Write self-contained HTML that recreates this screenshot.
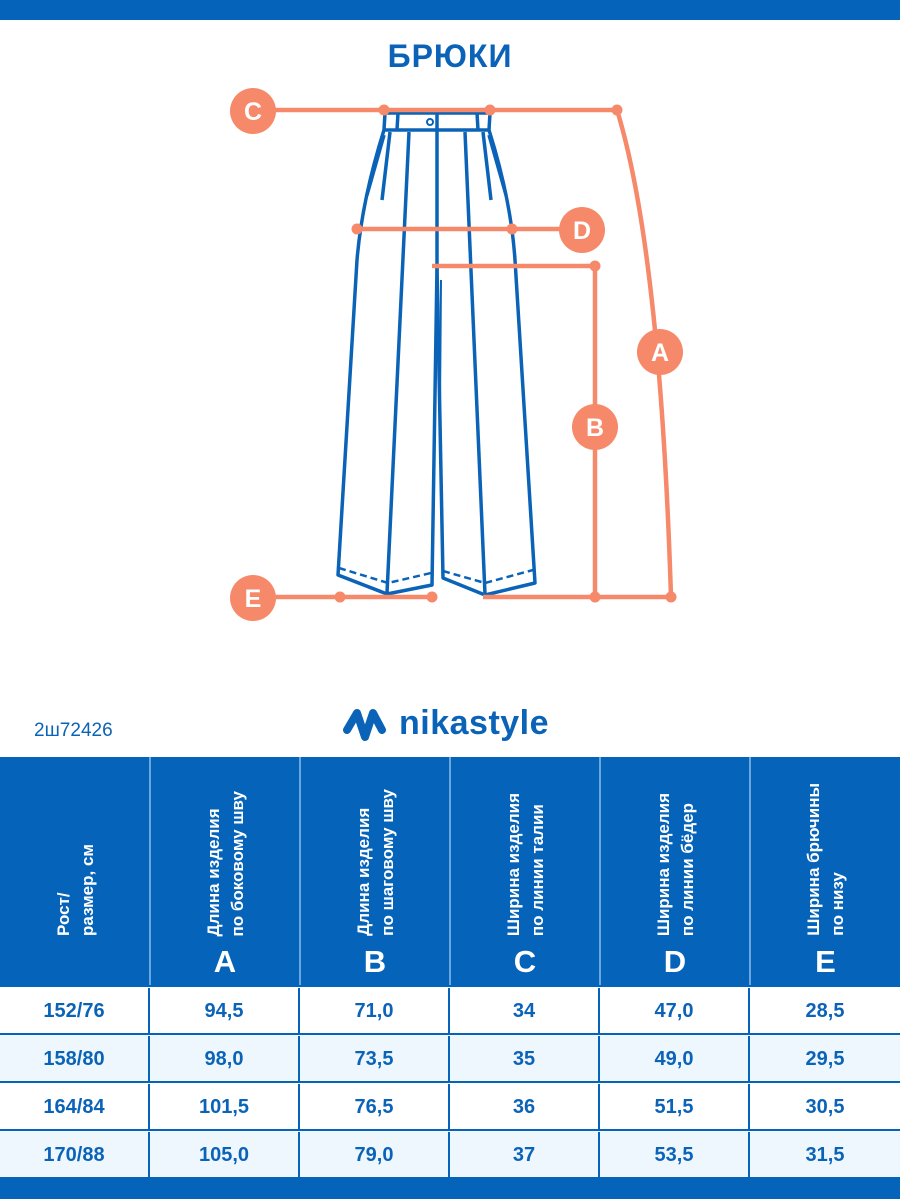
<!DOCTYPE html>
<html><head><meta charset="utf-8"><style>
*{margin:0;padding:0;box-sizing:border-box}
body{width:900px;height:1199px;background:#fff;position:relative;overflow:hidden;font-family:"Liberation Sans",sans-serif;color:#0B63B8}
.bar{position:absolute;left:0;width:900px;background:#0563BA}
.title{position:absolute;top:38px;left:0;width:900px;text-align:center;font-weight:bold;font-size:32px;color:#0B63B8;letter-spacing:1px}
.art{position:absolute;top:720px;left:34px;font-size:19px}
.logo{position:absolute;top:704px;font-size:34px;font-weight:bold;color:#0B63B8;letter-spacing:0.5px}
.hc{position:absolute;top:757px;height:229px;background:#0563BA;border-right:2px solid #6aa6df}
.vt{position:absolute;bottom:50px;writing-mode:vertical-rl;transform:rotate(180deg);color:#fff;font-weight:bold;font-size:17px;line-height:24px;white-space:nowrap}
.lt{position:absolute;bottom:6px;left:0;width:100%;text-align:center;color:#fff;font-weight:bold;font-size:31px}
.row{position:absolute;left:0;width:900px;height:48px;border-top:2px solid #0563BA}
.row div{position:absolute;top:1px;height:46px;width:150px;line-height:46px;text-align:center;font-weight:bold;font-size:20px;border-right:2px solid #0563BA}
</style></head><body>
<div class="bar" style="top:0;height:20px"></div>
<div class="title">БРЮКИ</div>
<svg width="900" height="760" style="position:absolute;left:0;top:0">
<g fill="none" stroke="#0B63B8" stroke-width="3.5" stroke-linejoin="round">
<path d="M385,113 L490,113 L489,130 L384,130 Z"/>
<line x1="398" y1="113" x2="397" y2="130"/><line x1="477" y1="113" x2="478" y2="130"/>
<line x1="437" y1="113" x2="437" y2="130"/>
<circle cx="430" cy="122" r="3" stroke-width="2"/>
<path d="M384,130 Q362,200 357,260 L338,575 L387,594 L432,585 L437,267"/>
<path d="M489,130 Q511,200 515,260 L535,583 L485,595 L443,578 L437,267"/>
<line x1="437" y1="130" x2="437" y2="267"/>
<line x1="390" y1="132" x2="382" y2="200"/><line x1="384" y1="135" x2="367" y2="195"/>
<line x1="409" y1="132" x2="387" y2="593"/>
<line x1="483" y1="132" x2="491" y2="200"/><line x1="489" y1="135" x2="506" y2="195"/>
<line x1="465" y1="132" x2="485" y2="594"/>
<line x1="441" y1="280" x2="440" y2="405" stroke-width="2"/>
</g>
<g fill="none" stroke="#0B63B8" stroke-width="2.5" stroke-dasharray="7,4">
<path d="M339,568 L388,583 L431,573"/><path d="M443,571 L485,583 L533,570"/>
</g>
<g stroke="#F6896A" stroke-width="4.5" fill="none">
<line x1="253" y1="110" x2="617" y2="110"/>
<path d="M617,110 Q660,250 671,597"/>
<line x1="357" y1="229" x2="585" y2="229"/>
<line x1="432" y1="266" x2="595" y2="266"/>
<line x1="595" y1="266" x2="595" y2="597"/>
<line x1="253" y1="597" x2="432" y2="597"/>
<line x1="483" y1="597" x2="671" y2="597"/>
</g>
<g fill="#F6896A">
<circle cx="384" cy="110" r="5.5"/><circle cx="490" cy="110" r="5.5"/><circle cx="617" cy="110" r="5.5"/>
<circle cx="357" cy="229" r="5.5"/><circle cx="512" cy="229" r="5.5"/>
<circle cx="595" cy="266" r="5.5"/>
<circle cx="340" cy="597" r="5.5"/><circle cx="432" cy="597" r="5.5"/><circle cx="595" cy="597" r="5.5"/><circle cx="671" cy="597" r="5.5"/>
<circle cx="253" cy="111" r="23"/><circle cx="582" cy="230" r="23"/><circle cx="660" cy="352" r="23"/><circle cx="595" cy="427" r="23"/><circle cx="253" cy="598" r="23"/>
</g>
<g fill="#fff" font-family="Liberation Sans,sans-serif" font-weight="bold" font-size="25" text-anchor="middle">
<text x="253" y="120">C</text><text x="582" y="239">D</text><text x="660" y="361">A</text><text x="595" y="436">B</text><text x="253" y="607">E</text>
</g>
<path d="M347,730 L357,713 L365,737 L373,713 L382,730" fill="none" stroke="#0B63B8" stroke-width="8" stroke-linejoin="round" stroke-linecap="round"/>
</svg>
<div class="art">2ш72426</div>
<div class="logo" style="left:399px">nikastyle</div>

<div class="hc" style="left:0;width:151px"><div class="vt" style="left:52px">Рост/<br>размер, см</div></div>
<div class="hc" style="left:151px;width:150px"><div class="vt" style="left:51px">Длина изделия<br>по боковому шву</div><div class="lt">A</div></div>
<div class="hc" style="left:301px;width:150px"><div class="vt" style="left:51px">Длина изделия<br>по шаговому шву</div><div class="lt">B</div></div>
<div class="hc" style="left:451px;width:150px"><div class="vt" style="left:51px">Ширина изделия<br>по линии талии</div><div class="lt">C</div></div>
<div class="hc" style="left:601px;width:150px"><div class="vt" style="left:51px">Ширина изделия<br>по линии бёдер</div><div class="lt">D</div></div>
<div class="hc" style="left:751px;width:149px;border-right:0"><div class="vt" style="left:51px">Ширина брючины<br>по низу</div><div class="lt">E</div></div>

<div class="row" style="top:985px;background:#fff"><div style="left:0">152/76</div><div style="left:150px">94,5</div><div style="left:300px">71,0</div><div style="left:450px">34</div><div style="left:600px">47,0</div><div style="left:750px;border-right:0">28,5</div></div>
<div class="row" style="top:1033px;background:#EEF7FE"><div style="left:0">158/80</div><div style="left:150px">98,0</div><div style="left:300px">73,5</div><div style="left:450px">35</div><div style="left:600px">49,0</div><div style="left:750px;border-right:0">29,5</div></div>
<div class="row" style="top:1081px;background:#fff"><div style="left:0">164/84</div><div style="left:150px">101,5</div><div style="left:300px">76,5</div><div style="left:450px">36</div><div style="left:600px">51,5</div><div style="left:750px;border-right:0">30,5</div></div>
<div class="row" style="top:1129px;background:#EEF7FE"><div style="left:0">170/88</div><div style="left:150px">105,0</div><div style="left:300px">79,0</div><div style="left:450px">37</div><div style="left:600px">53,5</div><div style="left:750px;border-right:0">31,5</div></div>
<div class="bar" style="top:1177px;height:22px"></div>
</body></html>
